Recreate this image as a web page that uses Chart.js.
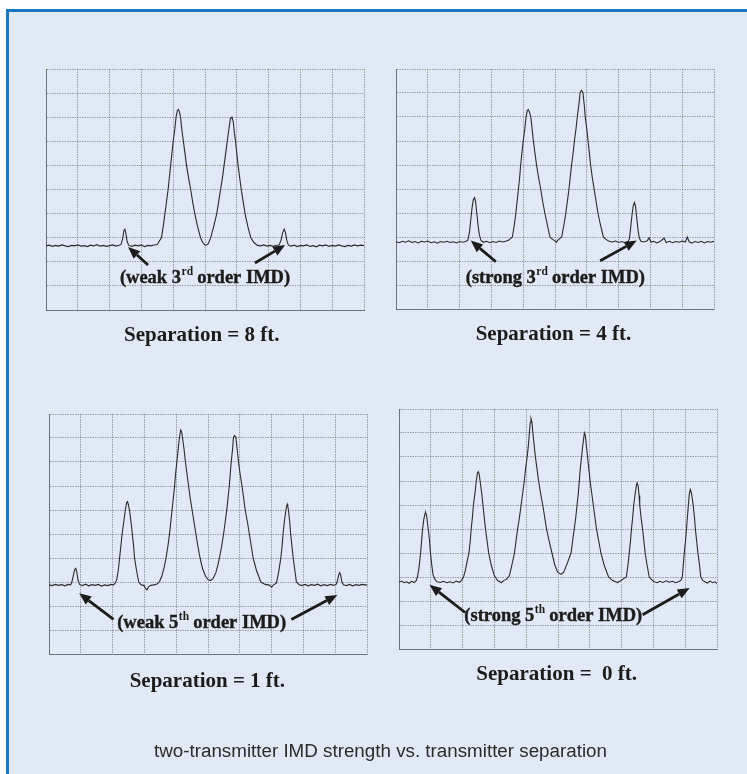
<!DOCTYPE html>
<html>
<head>
<meta charset="utf-8">
<script src="https://cdn.jsdelivr.net/npm/chart.js@4/dist/chart.umd.min.js"></script>
<style>
  html, body { margin: 0; padding: 0; background: #fff; overflow: hidden; width: 100%; height: 100%; }
  #frame {
    position: fixed; left: 6px; top: 9px; right: -40px; bottom: -40px;
    background: #e2e9f6;
    box-shadow: inset 3px 3px 0 #1a78c2;
  }
  .panel { position: absolute; }
  #caption {
    position: absolute; left: 0; width: 761px; top: 742px;
    text-align: center;
    font: 18.8px/18.8px "Liberation Sans", Arial, sans-serif;
    color: #2b2b2b;
  }
</style>
</head>
<body>
<div id="frame"></div>
<div class="panel" id="p8"><canvas id="c8"></canvas></div>
<div class="panel" id="p4"><canvas id="c4"></canvas></div>
<div class="panel" id="p1"><canvas id="c1"></canvas></div>
<div class="panel" id="p0"><canvas id="c0"></canvas></div>
<div id="caption">two-transmitter IMD strength vs. transmitter separation</div>

<script>
'use strict';

// screen divisions: x 0..10, y 0..10
let gridTicks = [0, 1, 2, 3, 4, 5, 6, 7, 8, 9, 10];

let separations = ['Separation = 8 ft.', 'Separation = 4 ft.', 'Separation = 1 ft.', 'Separation =  0 ft.'];

let imdNotes = [
  ['(weak 3', 'rd', ' order IMD)'],
  ['(strong 3', 'rd', ' order IMD)'],
  ['(weak 5', 'th', ' order IMD)'],
  ['(strong 5', 'th', ' order IMD)']
];

let trace8ft = [
  [0,2.66],[0.1,2.69],[0.2,2.64],[0.3,2.68],[0.4,2.65],[0.5,2.7],[0.6,2.66],[0.7,2.63],[0.8,2.68],[0.9,2.66],
  [1.0,2.7],[1.1,2.65],[1.2,2.67],[1.3,2.63],[1.4,2.69],[1.5,2.66],[1.6,2.71],[1.7,2.65],[1.8,2.68],[1.9,2.64],
  [2.0,2.67],[2.1,2.7],[2.2,2.65],[2.3,2.69],
  [2.36,2.72],[2.41,2.95],[2.45,3.3],[2.48,3.35],[2.51,3.2],[2.55,2.85],[2.6,2.68],
  [2.7,2.64],[2.8,2.69],[2.9,2.66],[3.0,2.7],[3.1,2.63],[3.2,2.68],[3.3,2.66],[3.4,2.7],[3.5,2.72],
  [3.56,2.85],[3.63,3.0],[3.69,3.5],[3.74,4.0],[3.79,4.5],[3.84,5.0],[3.88,5.5],[3.92,6.0],[3.96,6.5],[4.0,7.0],
  [4.05,7.5],[4.09,8.0],[4.13,8.28],[4.16,8.32],[4.19,8.25],[4.23,8.0],[4.27,7.5],[4.32,7.0],[4.37,6.5],[4.42,6.0],
  [4.48,5.5],[4.55,5.0],[4.61,4.5],[4.68,4.0],[4.76,3.5],[4.86,3.0],[4.93,2.8],[5.0,2.7],[5.04,2.69],[5.1,2.74],
  [5.18,3.0],[5.28,3.5],[5.37,4.0],[5.43,4.5],[5.49,5.0],[5.55,5.5],[5.6,6.0],[5.65,6.5],[5.7,7.0],[5.75,7.5],
  [5.8,7.95],[5.85,8.0],[5.89,7.8],[5.92,7.4],[5.96,7.0],[6.0,6.5],[6.04,6.0],[6.09,5.5],[6.14,5.0],[6.2,4.5],
  [6.26,4.0],[6.34,3.5],[6.44,3.0],[6.54,2.8],[6.65,2.68],
  [6.75,2.66],[6.85,2.7],[6.95,2.65],[7.05,2.68],[7.15,2.64],[7.25,2.69],[7.33,2.7],
  [7.39,2.9],[7.44,3.2],[7.49,3.35],[7.53,3.22],[7.57,2.9],[7.62,2.7],
  [7.7,2.65],[7.8,2.69],[7.9,2.63],[8.0,2.68],[8.1,2.66],[8.2,2.7],[8.3,2.64],[8.4,2.67],[8.5,2.62],[8.6,2.69],
  [8.7,2.66],[8.8,2.7],[8.9,2.64],[9.0,2.68],[9.1,2.65],[9.2,2.7],[9.3,2.66],[9.4,2.63],[9.5,2.68],[9.6,2.65],
  [9.7,2.7],[9.8,2.66],[9.9,2.69],[10,2.67]
];

let trace4ft = [
  [0,2.8],[0.1,2.76],[0.2,2.82],[0.3,2.78],[0.4,2.84],[0.5,2.77],[0.6,2.81],[0.7,2.75],[0.8,2.82],[0.9,2.79],
  [1.0,2.83],[1.1,2.76],[1.2,2.8],[1.3,2.74],[1.4,2.81],[1.5,2.78],[1.6,2.82],[1.7,2.77],[1.8,2.8],[1.9,2.75],
  [2.0,2.81],[2.1,2.78],[2.2,2.82],
  [2.26,2.87],[2.31,3.2],[2.35,3.7],[2.39,4.2],[2.43,4.55],[2.47,4.64],[2.5,4.5],[2.54,4.0],[2.58,3.5],[2.62,3.1],[2.67,2.87],
  [2.75,2.78],[2.85,2.82],[2.95,2.76],[3.05,2.81],[3.15,2.77],[3.25,2.83],[3.35,2.79],[3.45,2.82],
  [3.55,2.87],[3.66,3.0],[3.72,3.5],[3.77,4.0],[3.81,4.5],[3.85,5.0],[3.89,5.5],[3.92,6.0],[3.96,6.5],[4.0,7.0],
  [4.05,7.5],[4.09,8.0],[4.13,8.28],[4.16,8.31],[4.2,8.2],[4.24,8.0],[4.28,7.5],[4.32,7.0],[4.37,6.5],[4.42,6.0],
  [4.48,5.5],[4.55,5.0],[4.61,4.5],[4.68,4.0],[4.76,3.5],[4.84,3.0],[4.92,2.9],[5.0,2.84],[5.04,2.78],[5.1,2.88],
  [5.21,3.0],[5.28,3.5],[5.34,4.0],[5.39,4.5],[5.44,5.0],[5.48,5.5],[5.52,6.0],[5.57,6.5],[5.61,7.0],[5.66,7.5],
  [5.7,8.0],[5.75,8.5],[5.79,9.0],[5.83,9.11],[5.86,9.05],[5.88,9.0],[5.92,8.5],[5.95,8.0],[6.0,7.5],[6.04,7.0],
  [6.08,6.5],[6.12,6.0],[6.17,5.5],[6.23,5.0],[6.29,4.5],[6.35,4.0],[6.43,3.5],[6.52,3.0],[6.6,2.9],[6.7,2.82],
  [6.8,2.79],[6.9,2.83],[7.0,2.77],[7.1,2.81],[7.2,2.76],[7.3,2.82],
  [7.34,2.92],[7.38,3.4],[7.42,3.9],[7.46,4.3],[7.5,4.44],[7.53,4.3],[7.57,3.8],[7.61,3.3],[7.65,2.97],[7.7,2.82],
  [7.8,2.79],[7.9,2.84],[7.96,2.97],[8.02,2.78],[8.1,2.82],[8.2,2.75],[8.3,2.81],[8.43,2.95],[8.5,2.77],[8.6,2.82],
  [8.7,2.76],[8.8,2.81],[8.9,2.78],[9.0,2.83],[9.1,2.79],[9.16,3.0],[9.22,2.8],[9.3,2.74],[9.4,2.81],[9.5,2.77],
  [9.6,2.82],[9.7,2.75],[9.8,2.81],[9.9,2.78],[10,2.82]
];

let trace1ft = [
  [0,2.88],[0.1,2.85],[0.2,2.9],[0.3,2.86],[0.4,2.89],[0.5,2.84],[0.6,2.9],[0.68,2.88],
  [0.72,3.0],[0.77,3.3],[0.81,3.52],[0.84,3.57],[0.87,3.45],[0.91,3.1],[0.96,2.9],
  [1.05,2.85],[1.15,2.91],[1.25,2.84],[1.35,2.89],[1.45,2.86],[1.55,2.9],[1.65,2.83],[1.75,2.88],[1.85,2.85],[1.95,2.9],[2.03,2.88],
  [2.08,2.95],[2.13,3.1],[2.18,3.5],[2.22,4.0],[2.26,4.5],[2.3,5.0],[2.35,5.5],[2.4,6.0],[2.44,6.3],[2.47,6.35],
  [2.5,6.2],[2.53,6.0],[2.58,5.5],[2.62,5.0],[2.66,4.5],[2.69,4.0],[2.75,3.5],[2.82,3.0],[2.9,2.88],[2.98,2.86],
  [3.04,2.72],[3.08,2.67],[3.13,2.8],[3.2,2.86],[3.3,2.88],
  [3.4,2.92],[3.47,3.0],[3.55,3.25],[3.62,3.6],[3.68,4.0],[3.74,4.5],[3.79,5.0],[3.83,5.5],[3.87,6.0],[3.91,6.5],
  [3.95,7.0],[3.98,7.5],[4.02,8.0],[4.06,8.5],[4.1,9.0],[4.14,9.33],[4.17,9.25],[4.2,9.0],[4.25,8.5],[4.29,8.0],
  [4.34,7.5],[4.39,7.0],[4.44,6.5],[4.5,6.0],[4.56,5.5],[4.62,5.0],[4.68,4.5],[4.75,4.0],[4.83,3.55],[4.92,3.25],
  [5.0,3.1],[5.08,3.06],[5.16,3.15],
  [5.25,3.4],[5.31,3.7],[5.36,4.0],[5.43,4.5],[5.49,5.0],[5.54,5.5],[5.59,6.0],[5.63,6.5],[5.67,7.0],[5.7,7.5],
  [5.73,8.0],[5.77,8.5],[5.8,9.0],[5.83,9.1],[5.86,9.05],[5.88,9.0],[5.92,8.5],[5.96,8.0],[6.01,7.5],[6.07,7.0],
  [6.12,6.5],[6.17,6.0],[6.24,5.5],[6.3,5.0],[6.36,4.5],[6.42,4.0],[6.52,3.5],[6.66,3.0],[6.8,2.9],[6.93,2.87],
  [7.0,2.78],[7.06,2.88],
  [7.15,2.95],[7.22,3.4],[7.29,4.0],[7.33,4.5],[7.36,5.0],[7.4,5.5],[7.45,6.0],[7.49,6.24],[7.51,6.15],[7.53,6.0],
  [7.57,5.5],[7.6,5.0],[7.64,4.5],[7.68,4.0],[7.73,3.5],[7.78,3.0],[7.87,2.88],
  [7.95,2.85],[8.05,2.9],[8.15,2.84],[8.25,2.89],[8.35,2.86],[8.45,2.91],[8.55,2.84],[8.65,2.89],[8.75,2.85],[8.85,2.9],
  [8.95,2.86],[9.03,2.9],
  [9.07,3.05],[9.11,3.3],[9.14,3.39],[9.17,3.3],[9.21,3.0],[9.26,2.88],
  [9.35,2.85],[9.45,2.9],[9.55,2.84],[9.65,2.89],[9.75,2.86],[9.85,2.9],[10,2.87]
];

let trace0ft = [
  [0,2.78],[0.08,2.83],[0.16,2.76],[0.24,2.8],[0.32,2.74],[0.4,2.82],[0.48,2.77],[0.54,2.85],
  [0.58,3.0],[0.63,3.4],[0.68,4.0],[0.71,4.5],[0.74,5.0],[0.78,5.4],[0.82,5.65],[0.84,5.68],[0.87,5.55],[0.9,5.2],
  [0.92,5.0],[0.96,4.5],[0.99,4.0],[1.03,3.5],[1.07,3.1],[1.13,2.9],[1.2,2.8],
  [1.3,2.77],[1.4,2.82],[1.5,2.76],[1.6,2.8],[1.7,2.75],[1.8,2.83],[1.9,2.78],[1.96,2.85],
  [2.03,3.0],[2.09,3.3],[2.15,3.7],[2.2,4.0],[2.24,4.5],[2.27,5.0],[2.31,5.5],[2.34,6.0],[2.39,6.5],[2.43,7.0],
  [2.47,7.35],[2.49,7.39],[2.52,7.3],[2.55,7.0],[2.6,6.5],[2.64,6.0],[2.68,5.5],[2.72,5.0],[2.77,4.5],[2.82,4.0],
  [2.9,3.5],[3.0,3.05],[3.1,2.85],[3.22,2.77],[3.3,2.86],
  [3.38,2.9],[3.47,3.05],[3.55,3.5],[3.63,4.0],[3.68,4.5],[3.73,5.0],[3.79,5.5],[3.84,6.0],[3.89,6.5],[3.94,7.0],
  [3.98,7.5],[4.03,8.0],[4.07,8.5],[4.1,9.0],[4.13,9.45],[4.15,9.6],[4.18,9.45],[4.21,9.0],[4.25,8.5],[4.29,8.0],
  [4.34,7.5],[4.39,7.0],[4.45,6.5],[4.52,6.0],[4.58,5.5],[4.64,5.0],[4.72,4.5],[4.81,4.0],[4.9,3.5],[4.99,3.2],
  [5.1,3.11],[5.18,3.2],
  [5.3,3.6],[5.41,4.0],[5.46,4.5],[5.51,5.0],[5.56,5.5],[5.6,6.0],[5.64,6.5],[5.67,7.0],[5.7,7.5],[5.74,8.0],
  [5.78,8.5],[5.83,9.0],[5.86,8.9],[5.89,8.5],[5.93,8.0],[5.97,7.5],[6.01,7.0],[6.06,6.5],[6.11,6.0],[6.16,5.5],
  [6.21,5.0],[6.28,4.5],[6.35,4.0],[6.45,3.5],[6.59,3.0],[6.72,2.85],[6.87,2.77],[6.98,2.85],
  [7.08,2.95],[7.15,3.0],[7.2,3.5],[7.24,4.0],[7.28,4.5],[7.31,5.0],[7.35,5.5],[7.38,6.0],[7.43,6.5],[7.47,6.85],
  [7.49,6.92],[7.52,6.8],[7.55,6.4],[7.57,6.0],[7.61,5.5],[7.66,5.0],[7.7,4.5],[7.74,4.0],[7.8,3.5],[7.87,3.0],
  [7.95,2.88],[8.03,2.8],
  [8.12,2.76],[8.2,2.82],[8.3,2.77],[8.4,2.84],[8.5,2.78],[8.6,2.82],[8.7,2.76],[8.8,2.81],[8.86,2.85],
  [8.91,3.0],[8.94,3.5],[8.97,4.0],[9.01,4.5],[9.04,5.0],[9.07,5.5],[9.1,6.0],[9.13,6.45],[9.16,6.65],[9.19,6.55],
  [9.22,6.3],[9.25,6.0],[9.29,5.5],[9.32,5.0],[9.36,4.5],[9.4,4.0],[9.45,3.5],[9.49,3.0],[9.55,2.86],[9.62,2.8],
  [9.7,2.75],[9.78,2.83],[9.86,2.76],[9.94,2.8],[10,2.72]
];

let traces = [trace8ft, trace4ft, trace1ft, trace0ft];

// where each grid sits on the page, and where its notes go (in grid units)
let panels = [
  { canvas: 'c8', box: 'p8', left: 46, top: 69, w: 318, h: 241,
    noteAt: [5.0, 1.33], arrows: [[3.21, 1.87, 2.58, 2.61], [6.57, 1.95, 7.52, 2.70]], titleX: 4.9, titleDy: 30.5 },
  { canvas: 'c4', box: 'p4', left: 396, top: 69, w: 318, h: 240,
    noteAt: [5.01, 1.3], arrows: [[3.14, 1.97, 2.35, 2.85], [6.42, 2.01, 7.57, 2.85]], titleX: 4.95, titleDy: 31 },
  { canvas: 'c1', box: 'p1', left: 49, top: 414, w: 318, h: 240,
    noteAt: [4.8, 1.28], arrows: [[2.03, 1.44, 0.95, 2.53], [7.62, 1.44, 9.07, 2.46]], titleX: 4.98, titleDy: 32.7 },
  { canvas: 'c0', box: 'p0', left: 399, top: 409, w: 318, h: 240,
    noteAt: [4.85, 1.36], arrows: [[2.08, 1.52, 0.96, 2.68], [7.66, 1.43, 9.14, 2.54]], titleX: 4.96, titleDy: 31.3 }
];

let pad = { left: 4, right: 4, top: 4, bottom: 50 };
let ink = '#1c1c1c';
let serif = '"Liberation Serif", "Times New Roman", serif';

function drawArrow(ctx, x1, y1, x2, y2) {
  let ang = Math.atan2(y2 - y1, x2 - x1);
  let head = 12;
  let half = 5;
  let bx = x2 - head * Math.cos(ang);
  let by = y2 - head * Math.sin(ang);
  ctx.lineWidth = 2.8;
  ctx.beginPath();
  ctx.moveTo(x1, y1);
  ctx.lineTo(bx, by);
  ctx.stroke();
  ctx.beginPath();
  ctx.moveTo(x2, y2);
  ctx.lineTo(bx + half * Math.sin(ang), by - half * Math.cos(ang));
  ctx.lineTo(bx - half * Math.sin(ang), by + half * Math.cos(ang));
  ctx.closePath();
  ctx.fill();
}

function drawNote(ctx, parts, cx, cy) {
  let big = 'bold 18.5px ' + serif;
  let small = 'bold 11.5px ' + serif;
  ctx.font = big;
  let w1 = ctx.measureText(parts[0]).width;
  let w3 = ctx.measureText(parts[2]).width;
  ctx.font = small;
  let w2 = ctx.measureText(parts[1]).width;
  let x = cx - (w1 + w2 + w3) / 2;
  ctx.textAlign = 'left';
  ctx.textBaseline = 'middle';
  ctx.lineWidth = 0.4;
  ctx.font = big;
  ctx.fillText(parts[0], x, cy);
  ctx.strokeText(parts[0], x, cy);
  ctx.font = small;
  ctx.fillText(parts[1], x + w1 + 0.5, cy - 6);
  ctx.font = big;
  ctx.fillText(parts[2], x + w1 + w2, cy);
  ctx.strokeText(parts[2], x + w1 + w2, cy);
}

let notesPlugin = {
  id: 'notes',
  afterDatasetsDraw(chart, args, opts) {
    let ctx = chart.ctx;
    let xs = chart.scales.x;
    let ys = chart.scales.y;
    ctx.save();
    ctx.fillStyle = ink;
    ctx.strokeStyle = ink;
    opts.arrows.forEach(function (a) {
      drawArrow(ctx, xs.getPixelForValue(a[0]), ys.getPixelForValue(a[1]),
        xs.getPixelForValue(a[2]), ys.getPixelForValue(a[3]));
    });
    drawNote(ctx, opts.note, xs.getPixelForValue(opts.noteAt[0]), ys.getPixelForValue(opts.noteAt[1]));
    ctx.font = 'bold 21px ' + serif;
    ctx.textAlign = 'center';
    ctx.textBaseline = 'alphabetic';
    ctx.fillText(opts.title, xs.getPixelForValue(opts.titleX), chart.chartArea.bottom + opts.titleDy);
    ctx.restore();
  }
};

function gridScale() {
  return {
    type: 'linear',
    min: gridTicks[0],
    max: gridTicks[gridTicks.length - 1],
    afterBuildTicks: function (axis) {
      axis.ticks = gridTicks.map(function (v) { return { value: v }; });
    },
    ticks: { display: false },
    grid: { color: 'rgba(100, 106, 118, 0.6)', lineWidth: 1, drawTicks: false },
    border: { display: true, color: 'rgba(90, 95, 105, 0.8)', width: 1, dash: [1.5, 1] }
  };
}

for (let i = 0; i < panels.length; i++) {
  let p = panels[i];
  let box = document.getElementById(p.box);
  box.style.left = (p.left - pad.left) + 'px';
  box.style.top = (p.top - pad.top) + 'px';
  box.style.width = (p.w + pad.left + pad.right) + 'px';
  box.style.height = (p.h + pad.top + pad.bottom) + 'px';

  new Chart(document.getElementById(p.canvas), {
    type: 'line',
    data: {
      datasets: [{
        data: traces[i].map(function (pt) { return { x: pt[0], y: pt[1] }; }),
        borderColor: '#2a2a2a',
        borderWidth: 1.1,
        pointRadius: 0,
        tension: 0,
        fill: false
      }]
    },
    options: {
      responsive: true,
      maintainAspectRatio: false,
      animation: false,
      layout: { padding: pad },
      scales: { x: gridScale(), y: gridScale() },
      plugins: {
        legend: { display: false },
        tooltip: { enabled: false },
        notes: { note: imdNotes[i], noteAt: p.noteAt, arrows: p.arrows, title: separations[i], titleX: p.titleX, titleDy: p.titleDy }
      }
    },
    plugins: [notesPlugin]
  });
}
</script>
</body>
</html>
